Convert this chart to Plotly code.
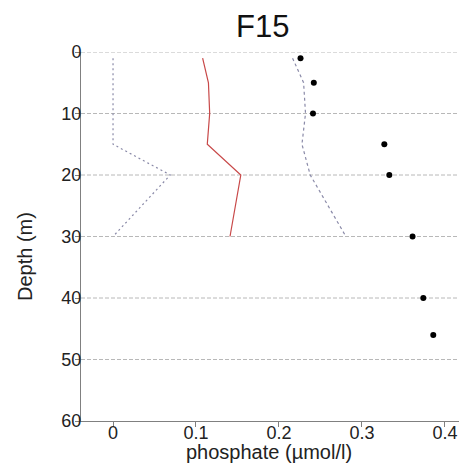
import plotly.graph_objects as go

# Data
obs_depth = [1, 5, 10, 15, 20, 30, 40, 46]
obs_phosphate = [0.226, 0.242, 0.241, 0.327, 0.333, 0.361, 0.374, 0.386]

model_depth = [1, 5, 10, 15, 20, 30]
model_mean = [0.108, 0.115, 0.1165, 0.1136, 0.154, 0.141]
model_low = [0.0, 0.0, 0.0, 0.0, 0.069, 0.0]
model_high = [0.2164, 0.2297, 0.232, 0.2277, 0.2377, 0.2807]

x_ticks = [0, 0.1, 0.2, 0.3, 0.4]
x_ticklabels = ["0", "0.1", "0.2", "0.3", "0.4"]
y_ticks = [0, 10, 20, 30, 40, 50, 60]

FONT = "Liberation Sans, Arial, sans-serif"
W, H = 459, 474
L, R, T = 81, 0, 52
B = H - 421
pw = W - L - R
ph = H - T - B


def px(xp):
    return (xp - L) / pw


def py(yp):
    return 1 - (yp - T) / ph


fig = go.Figure()
fig.add_trace(go.Scatter(x=model_low, y=model_depth, mode="lines",
                         line=dict(color="#8a8aa8", width=1.2, dash="2px,3px"), showlegend=False))
fig.add_trace(go.Scatter(x=model_high, y=model_depth, mode="lines",
                         line=dict(color="#8a8aa8", width=1.2, dash="3px,3px"), showlegend=False))
fig.add_trace(go.Scatter(x=model_mean, y=model_depth, mode="lines",
                         line=dict(color="#c84848", width=1.2), showlegend=False))
fig.add_trace(go.Scatter(x=obs_phosphate, y=obs_depth, mode="markers",
                         marker=dict(color="black", size=6), showlegend=False))

# horizontal grid lines
for yv in [0, 10, 20, 30, 40, 50]:
    fig.add_shape(type="line", xref="paper", x0=0, x1=1, yref="y", y0=yv, y1=yv,
                  line=dict(color="#b8b8b8", width=1, dash="4px,2px"), layer="below")

fig.add_annotation(text="phosphate (µmol/l)", xref="paper", yref="paper",
                   x=px(269), y=py(452), showarrow=False,
                   xanchor="center", yanchor="middle", font=dict(size=20, color="#222222"))
fig.add_annotation(text="Depth (m)", xref="paper", yref="paper", textangle=-90,
                   x=px(25), y=py(257), showarrow=False,
                   xanchor="center", yanchor="middle", font=dict(size=20, color="#222222"))
fig.add_annotation(text="F15", xref="paper", yref="paper",
                   x=px(262), y=py(26), showarrow=False,
                   xanchor="center", yanchor="middle", font=dict(size=31, color="#111111"))

fig.update_layout(
    width=W, height=H,
    margin=dict(l=L, r=R, t=T, b=B, autoexpand=False),
    paper_bgcolor="white", plot_bgcolor="white",
    font=dict(family=FONT, color="#222222", size=18),
    hovermode=False,
    xaxis=dict(range=[-0.0386, 0.417], tickvals=x_ticks, ticktext=x_ticklabels,
               showgrid=False, zeroline=False, showline=True, linecolor="#808080",
               linewidth=1, ticks="outside", ticklen=5, tickcolor="#808080",
               tickfont=dict(size=18), automargin=False, ticklabelstandoff=-10),
    yaxis=dict(range=[60, 0], tickvals=y_ticks, showgrid=False, zeroline=False,
               showline=True, linecolor="#808080", linewidth=1, ticks="outside",
               ticklen=5, tickcolor="#808080", tickfont=dict(size=18), automargin=False,
               ticklabelstandoff=-10),
)

fig.write_html(
    "out.html",
    config={"displayModeBar": False},
    post_script="document.body.style.margin='0';document.body.style.overflow='hidden';",
)
